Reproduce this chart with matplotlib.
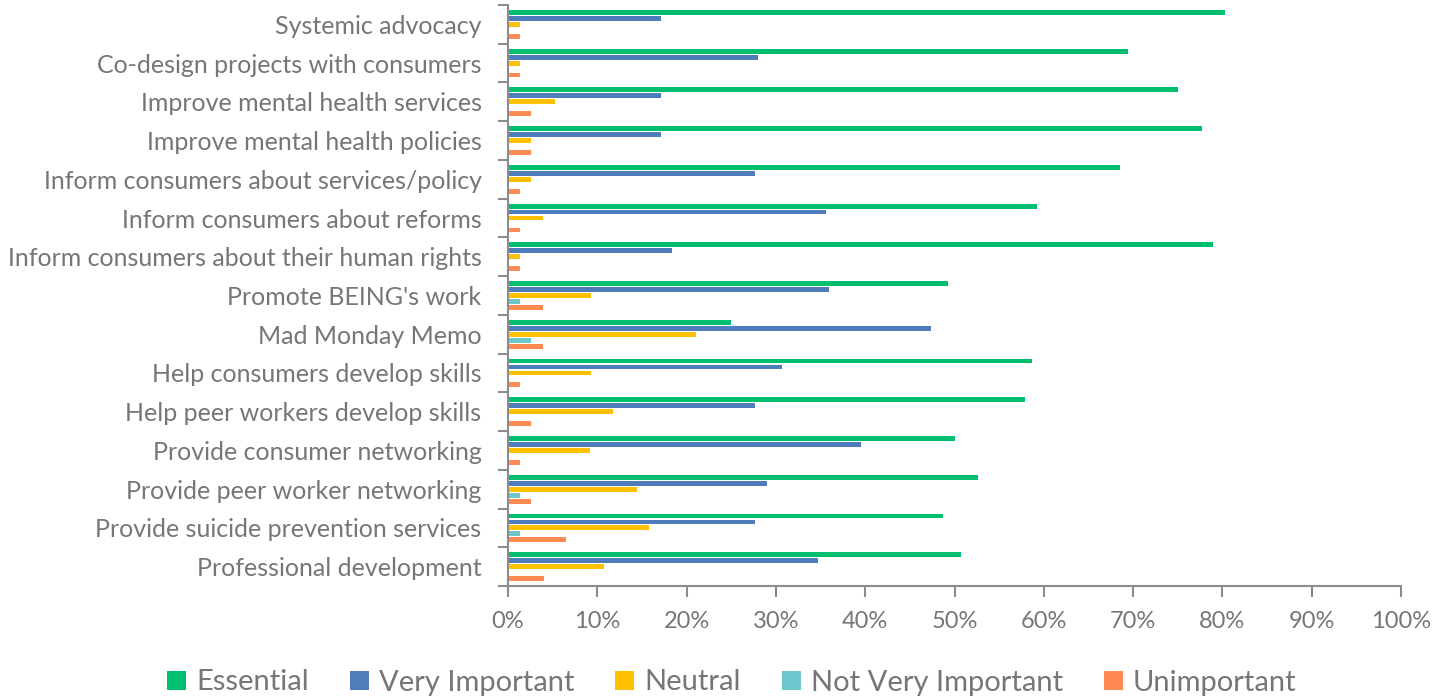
import matplotlib.pyplot as plt
import numpy as np

categories = ["Systemic advocacy", "Co-design projects with consumers",
              "Improve mental health services", "Improve mental health policies",
              "Inform consumers about services/policy", "Inform consumers about reforms",
              "Inform consumers about their human rights", "Promote BEING's work",
              "Mad Monday Memo", "Help consumers develop skills",
              "Help peer workers develop skills", "Provide consumer networking",
              "Provide peer worker networking", "Provide suicide prevention services",
              "Professional development"]

essential = [80.3, 69.4, 75.0, 77.7, 68.5, 59.2, 79.0, 49.3, 25.0, 58.7, 57.9, 50.0, 52.6, 48.7, 50.7]
very_important = [17.1, 28.0, 17.1, 17.1, 27.7, 35.6, 18.4, 36.0, 47.4, 30.7, 27.7, 39.5, 29.0, 27.7, 34.7]
neutral = [1.3, 1.3, 5.3, 2.6, 2.6, 3.9, 1.3, 9.3, 21.1, 9.3, 11.8, 9.2, 14.5, 15.8, 10.7]
not_very_important = [0, 0, 0, 0, 0, 0, 0, 1.3, 2.6, 0, 0, 0, 1.3, 1.3, 0]
unimportant = [1.3, 1.3, 2.6, 2.6, 1.3, 1.3, 1.3, 3.9, 3.9, 1.3, 2.6, 1.3, 2.6, 6.5, 4.0]

series = ["Essential", "Very Important", "Neutral", "Not Very Important", "Unimportant"]
values = [essential, very_important, neutral, not_very_important, unimportant]
colors = ["#00BF6F", "#4F7CBA", "#FFC000", "#6CC8CD", "#FF8B52"]

text_color = "#767676"
axis_color = "#8C8C8C"
plt.rcParams['font.family'] = ['Lato', 'DejaVu Sans']

fig = plt.figure(figsize=(14.41, 7), dpi=100)
ax = fig.add_axes([508 / 1441, 1 - 586 / 700, (1401 - 508) / 1441, (586 - 5) / 700])

y = np.arange(len(categories))
step = 0.154
for i, (vals, name, color) in enumerate(zip(values, series, colors)):
    ax.barh(y + (i - 2) * step, vals, height=0.125, color=color, label=name)

ax.set_ylim(len(categories) - 0.5, -0.5)
ax.set_xlim(0, 100)

ax.set_yticks(y)
ax.set_yticklabels(categories, fontsize=18, color=text_color)
ax.set_yticks(np.arange(len(categories) + 1) - 0.5, minor=True)
ax.tick_params(axis='y', which='major', length=0, pad=19)
ax.tick_params(axis='y', which='minor', length=7, width=1.5, color=axis_color)

ax.set_xticks(np.arange(0, 101, 10))
ax.set_xticklabels([f"{t}%" for t in range(0, 101, 10)], fontsize=17, color=text_color)
ax.tick_params(axis='x', length=8, width=1.5, color=axis_color, pad=10)

for side in ['top', 'right']:
    ax.spines[side].set_visible(False)
for side in ['left', 'bottom']:
    ax.spines[side].set_color(axis_color)
    ax.spines[side].set_linewidth(1.5)

leg = fig.legend(loc='center', bbox_to_anchor=(0.508, 0.025), ncol=5, frameon=False,
                 fontsize=21, handlelength=0.65, handleheight=0.65, handletextpad=0.35,
                 columnspacing=1.4)
for t in leg.get_texts():
    t.set_color(text_color)

fig.savefig("out.png", dpi=100)
